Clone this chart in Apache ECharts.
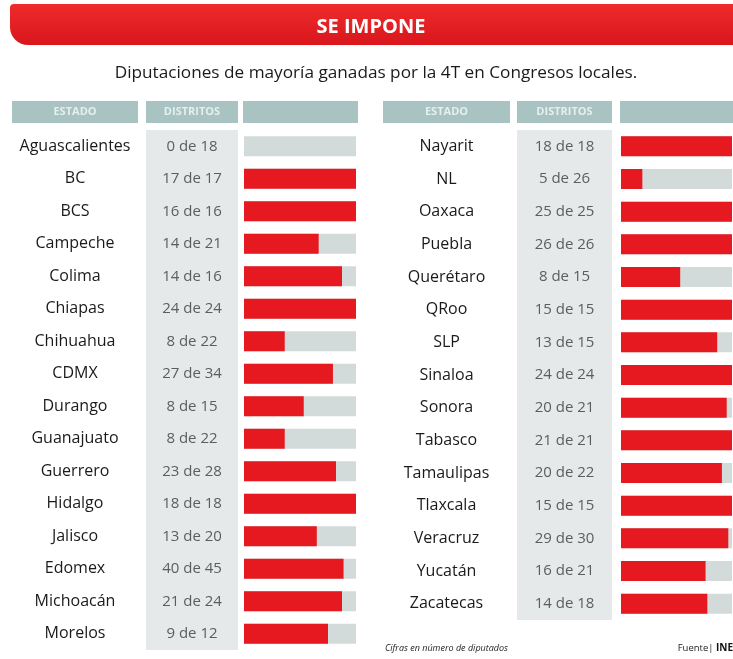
<!DOCTYPE html>
<html>
<head>
<meta charset="utf-8">
<script src="https://cdn.jsdelivr.net/npm/echarts@6/dist/echarts.min.js"></script>
<style>
  html, body { margin: 0; padding: 0; background: #ffffff; }
  #chart { width: 733px; height: 659px; }
</style>
</head>
<body>
<div id="chart"></div>
<script>
// Estados, distritos ganados y distritos totales (columna izquierda)
const estadosIzq = ['Aguascalientes', 'BC', 'BCS', 'Campeche', 'Colima', 'Chiapas', 'Chihuahua', 'CDMX',
  'Durango', 'Guanajuato', 'Guerrero', 'Hidalgo', 'Jalisco', 'Edomex', 'Michoacán', 'Morelos'];
const ganadosIzq = [0, 17, 16, 14, 14, 24, 8, 27, 8, 8, 23, 18, 13, 40, 21, 9];
const totalesIzq = [18, 17, 16, 21, 16, 24, 22, 34, 15, 22, 28, 18, 20, 45, 24, 12];

// Columna derecha
const estadosDer = ['Nayarit', 'NL', 'Oaxaca', 'Puebla', 'Querétaro', 'QRoo', 'SLP', 'Sinaloa',
  'Sonora', 'Tabasco', 'Tamaulipas', 'Tlaxcala', 'Veracruz', 'Yucatán', 'Zacatecas'];
const ganadosDer = [18, 5, 25, 26, 8, 15, 13, 24, 20, 21, 20, 15, 29, 16, 14];
const totalesDer = [18, 26, 25, 26, 15, 15, 15, 24, 21, 21, 22, 15, 30, 21, 18];

const encabezados = ['ESTADO', 'DISTRITOS'];

const ROJO = '#e5191f';
const PISTA = '#d3dada';
const COLUMNA = '#e6e9e9';
const CABECERA = '#a9c2c2';
const FUENTE = '"Open Sans", "Noto Sans", sans-serif';

const chart = echarts.init(document.getElementById('chart'), null, { renderer: 'canvas' });

// Geometría de cada panel: columna de distritos y columna de barras
const paneles = [
  { estados: estadosIzq, ganados: ganadosIzq, totales: totalesIzq,
    colEstado: [12, 138], colDist: [146, 238], colBarra: [244, 356], top: 130, alto: 520 },
  { estados: estadosDer, ganados: ganadosDer, totales: totalesDer,
    colEstado: [383, 510], colDist: [517, 612], colBarra: [621, 732], top: 130, alto: 490 }
];

const grid = [], xAxis = [], yAxis = [], series = [], graphic = [];

// Cintillo rojo con el título
graphic.push({
  type: 'rect', shape: { x: 10, y: 4, width: 740, height: 41, r: [4, 0, 0, 18] },
  style: {
    fill: new echarts.graphic.LinearGradient(0, 0, 0, 1, [
      { offset: 0, color: '#ef2b2b' }, { offset: 1, color: '#d8161c' }
    ])
  }
});
graphic.push({
  type: 'text', x: 371, y: 27,
  style: { text: 'SE IMPONE', fill: '#ffffff', font: 'bold 20px ' + FUENTE, align: 'center', verticalAlign: 'middle' }
});
graphic.push({
  type: 'text', x: 376, y: 73,
  style: { text: 'Diputaciones de mayoría ganadas por la 4T en Congresos locales.', fill: '#1a1a1a',
    font: '500 17.2px ' + FUENTE, align: 'center', verticalAlign: 'middle' }
});

paneles.forEach((p, i) => {
  // Fila de encabezado
  const celdas = [p.colEstado, p.colDist, [p.colBarra[0] - 1, p.colBarra[1] + 2]];
  celdas.forEach((c, j) => {
    graphic.push({ type: 'rect', shape: { x: c[0], y: 101, width: c[1] - c[0], height: 22 },
      style: { fill: CABECERA } });
    if (j < 2) {
      graphic.push({ type: 'text', x: (c[0] + c[1]) / 2, y: 112,
        style: { text: encabezados[j], fill: '#e4efef', font: 'bold 11px ' + FUENTE,
          align: 'center', verticalAlign: 'middle' } });
    }
  });

  const gDist = i * 2, gBarra = i * 2 + 1;
  const nombreCentro = (p.colEstado[0] + p.colEstado[1]) / 2;

  // Columna de distritos: fondo gris continuo; el eje lleva los nombres de los estados
  grid.push({ left: p.colDist[0], width: p.colDist[1] - p.colDist[0], top: p.top, height: p.alto,
    show: true, backgroundColor: COLUMNA, borderWidth: 0 });
  xAxis.push({ gridIndex: gDist, type: 'value', min: 0, max: 1, show: false });
  yAxis.push({
    gridIndex: gDist, type: 'category', data: p.estados, inverse: true,
    axisLine: { show: false }, axisTick: { show: false }, splitLine: { show: false },
    axisLabel: { align: 'center', margin: p.colDist[0] - nombreCentro, color: '#1a1a1a',
      fontFamily: FUENTE, fontSize: 16 }
  });
  series.push({
    type: 'bar', xAxisIndex: gDist, yAxisIndex: gDist, barCategoryGap: '0%',
    data: p.estados.map(() => 1), itemStyle: { color: 'rgba(0,0,0,0)' },
    silent: true,
    label: { show: true, position: 'inside', color: '#5a5e5e', fontFamily: FUENTE, fontSize: 15,
      formatter: (d) => p.ganados[d.dataIndex] + ' de ' + p.totales[d.dataIndex] }
  });

  // Columna de barras: proporción de distritos ganados
  grid.push({ left: p.colBarra[0], width: p.colBarra[1] - p.colBarra[0], top: p.top, height: p.alto });
  xAxis.push({ gridIndex: gBarra, type: 'value', min: 0, max: 1, show: false });
  yAxis.push({ gridIndex: gBarra, type: 'category', data: p.estados, inverse: true, show: false });
  series.push({
    type: 'bar', xAxisIndex: gBarra, yAxisIndex: gBarra, barWidth: 20,
    data: p.ganados.map((g, k) => g / p.totales[k]),
    itemStyle: { color: ROJO },
    showBackground: true, backgroundStyle: { color: PISTA }, silent: true
  });
});

// Notas al pie
graphic.push({
  type: 'text', x: 385, y: 648,
  style: { text: 'Cifras en número de diputados', fill: '#222222', font: 'italic 9px ' + FUENTE,
    align: 'left', verticalAlign: 'middle' }
});
graphic.push({
  type: 'text', x: 733, y: 648,
  style: { text: '{a|Fuente| }{b|INE}', align: 'right', verticalAlign: 'middle',
    rich: { a: { fill: '#222222', font: '9.5px ' + FUENTE }, b: { fill: '#111111', font: 'bold 10px ' + FUENTE } } }
});

chart.setOption({
  animation: false,
  backgroundColor: '#ffffff',
  grid, xAxis, yAxis, series, graphic
});
</script>
</body>
</html>
